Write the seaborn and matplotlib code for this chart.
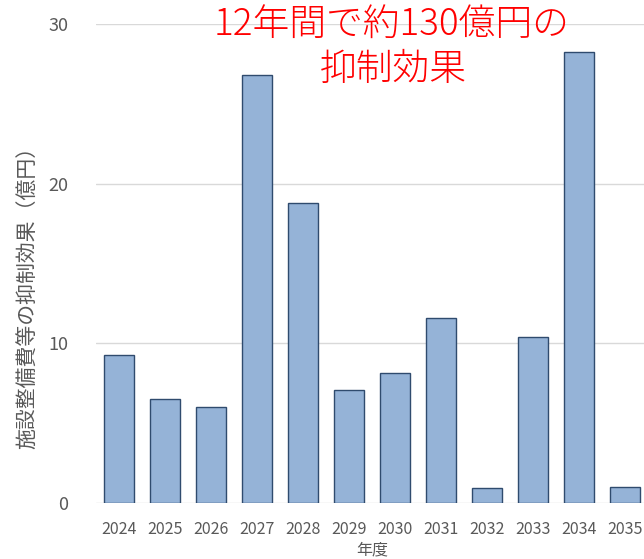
import pandas as pd
import numpy as np
import seaborn as sns
import matplotlib.pyplot as plt

years = ['2024', '2025', '2026', '2027', '2028', '2029', '2030', '2031', '2032', '2033', '2034', '2035']
effect = [9.27, 6.51, 6.01, 26.8, 18.79, 7.08, 8.14, 11.58, 0.94, 10.39, 28.24, 1.0]
y_ticks = [0, 10, 20, 30]

sns.set_theme(style="white")
plt.rcParams['font.family'] = ['Noto Sans CJK JP', 'DejaVu Sans']

df = pd.DataFrame({'年度': years, '抑制効果': effect})

fig = plt.figure(figsize=(6.44, 5.59), dpi=100)
ax = fig.add_axes([96 / 644, 1 - 503 / 559, 552 / 644, 479 / 559])

sns.barplot(data=df, x='年度', y='抑制効果', ax=ax, color='#95B3D7',
            saturation=1, width=0.67, edgecolor='#2F4B6E', linewidth=1)

ax.set_ylim(0, 30)
ax.set_xlim(-0.5, 11.5)
ax.set_yticks(y_ticks)
ax.yaxis.grid(True, color='#D9D9D9', linewidth=1)
ax.set_axisbelow(True)
sns.despine(ax=ax, left=True, bottom=True, top=True, right=True)

ax.tick_params(axis='y', labelsize=13, colors='#595959', length=0, pad=20)
ax.tick_params(axis='x', labelsize=11.5, colors='#595959', length=0, pad=13)
ax.set_xlabel('年度', fontsize=11.5, color='#595959')
ax.xaxis.set_label_coords((372 - 96) / 552, -(541 - 503) / 479)
ax.set_ylabel('施設整備費等の抑制効果（億円）', fontsize=15, color='#595959')
ax.yaxis.set_label_coords(-(96 - 39) / 552, (503 - 292) / 479)

fig.text(392 / 644, 1 - 25 / 559, '12年間で約130億円の', color='#FF0000',
         fontsize=26.5, fontweight='light', ha='center', va='center')
fig.text(393 / 644, 1 - 70 / 559, '抑制効果', color='#FF0000',
         fontsize=26.5, fontweight='light', ha='center', va='center')

fig.savefig('out.png', dpi=100)
